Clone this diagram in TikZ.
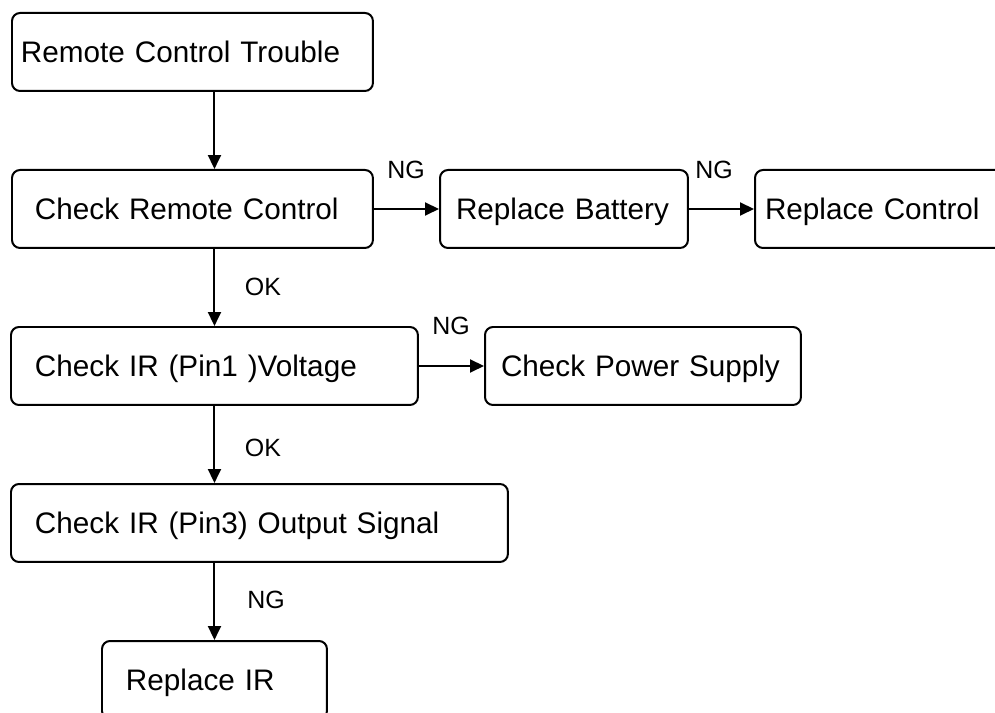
\documentclass[tikz,border=0pt]{standalone}
\usepackage{fontspec}
\setmainfont{Liberation Sans}
\usetikzlibrary{arrows.meta}

\tikzset{
  box/.style={draw, rounded corners=0.16cm, line width=0.04cm, anchor=north west, align=left,
    minimum height=1.56cm, inner ysep=0pt, text height=12.1pt, text depth=0pt,
    font=\fontsize{16.9}{20}\selectfont},
  lbl/.style={inner sep=0pt, font=\fontsize{14.2}{17}\selectfont},
  arr/.style={-{Triangle[length=0.28cm,width=0.26cm]}, line width=0.04cm}
}

\begin{document}
\begin{tikzpicture}[x=0.02cm, y=-0.02cm]
            \useasboundingbox (0,0) rectangle (995,713);
            \clip (0,0) rectangle (995,713);

            \node[box, inner xsep=0.18cm, text width=6.86cm] (trouble) at (11,12) {Remote Control Trouble};
            \node[box, inner xsep=0.46cm, text width=6.3cm] (chkremote) at (11,169) {Check Remote Control};
            \node[box, inner xsep=0.32cm, text width=4.32cm] (battery) at (439,169) {Replace Battery};
            \node[box, inner xsep=0.2cm, text width=4.8cm] (rcontrol) at (754,169) {Replace Control};
            \node[box, inner xsep=0.48cm, text width=7.18cm] (pinone) at (10,326) {Check IR (Pin1 )Voltage};
            \node[box, inner xsep=0.32cm, text width=5.68cm] (power) at (484,326) {Check Power Supply};
            \node[box, inner xsep=0.48cm, text width=8.98cm] (pinthree) at (10,483) {Check IR (Pin3) Output Signal};
            \node[box, inner xsep=0.48cm, text width=3.54cm] (replaceir) at (101,640) {Replace IR};

            \node[lbl] (ngbat) at (406,170) {NG};
            \node[lbl] (ngctl) at (714,170) {NG};
            \node[lbl] (okone) at (263,287) {OK};
            \node[lbl] (ngpwr) at (451,326) {NG};
            \node[lbl] (oktwo) at (263,448) {OK};
            \node[lbl] (ngir) at (266,600) {NG};

            \draw[arr] (trouble.south -| replaceir.north) -- (chkremote.north -| replaceir.north);
            \draw[arr] (chkremote.east) -- (battery.west);
            \draw[arr] (battery.east) -- (rcontrol.west);
            \draw[arr] (chkremote.south -| replaceir.north) -- (pinone.north -| replaceir.north);
            \draw[arr] (pinone.east) -- (power.west);
            \draw[arr] (pinone.south -| replaceir.north) -- (pinthree.north -| replaceir.north);
            \draw[arr] (pinthree.south -| replaceir.north) -- (replaceir.north);
        \end{tikzpicture}
\end{document}
